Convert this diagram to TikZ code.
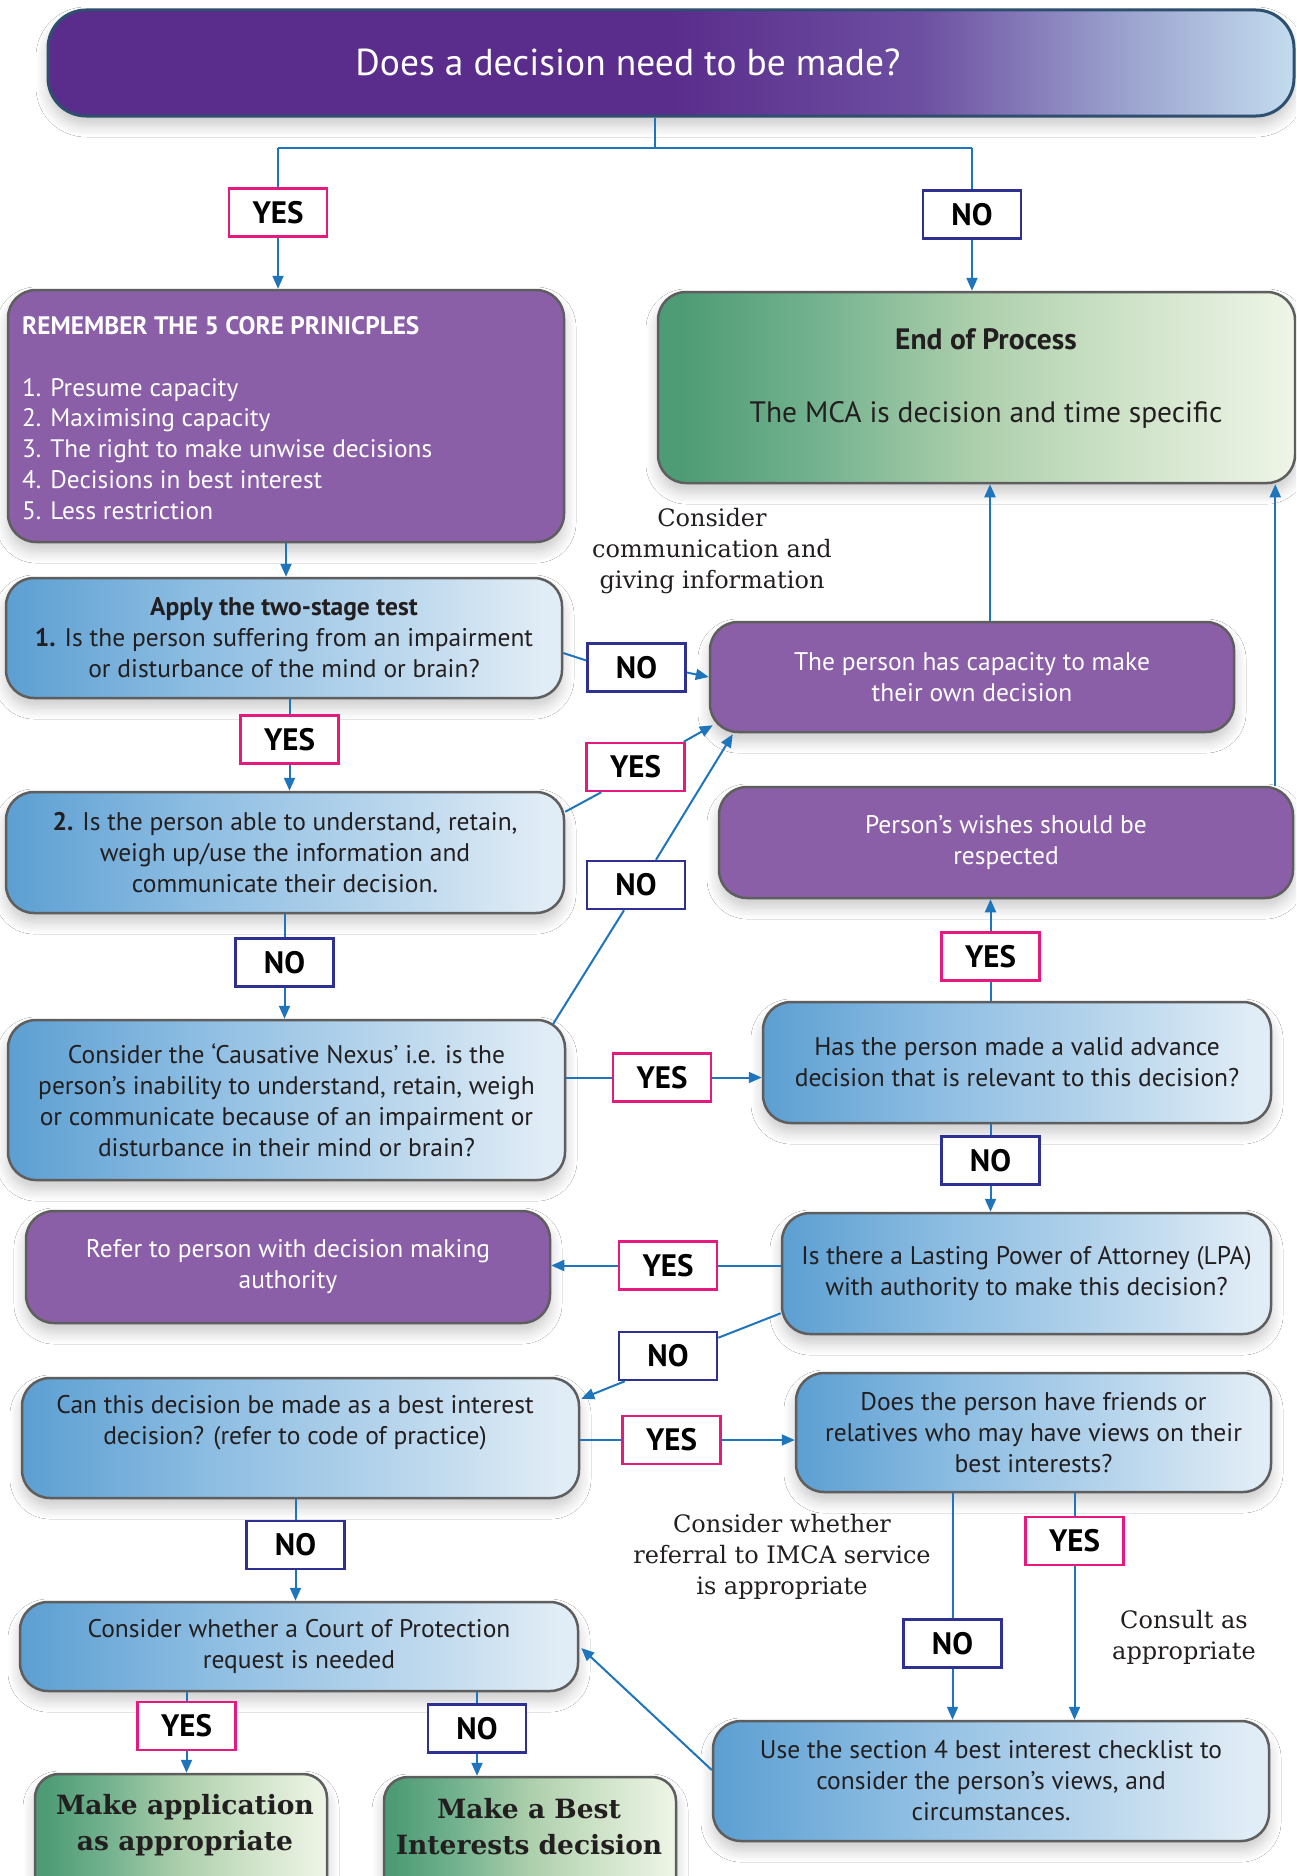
\documentclass[tikz,border=0pt]{standalone}
\usepackage{fontspec}
\setmainfont{PT Sans}
\newfontfamily\annfont{DejaVu Serif}
\usetikzlibrary{arrows.meta,calc,shadows.blur}
\definecolor{textdark}{HTML}{231F20}
\definecolor{boxgray}{HTML}{5E5E5E}
\definecolor{boxpurple}{HTML}{8A5FA8}
\definecolor{connblue}{HTML}{1F75BC}
\definecolor{yesmag}{HTML}{E5197E}
\definecolor{nonavy}{HTML}{2E3192}
\definecolor{topborder}{HTML}{2F4F6F}
\definecolor{topA}{HTML}{5A2D8C}
\definecolor{topB}{HTML}{6D4FA1}
\definecolor{topC}{HTML}{9AA0CD}
\definecolor{topD}{HTML}{C3DCEE}
\definecolor{blA}{HTML}{5C9FD2}
\definecolor{blB}{HTML}{8DBDE2}
\definecolor{blC}{HTML}{C0DAEE}
\definecolor{blD}{HTML}{E0ECF6}
\definecolor{grA}{HTML}{4E9C75}
\definecolor{grB}{HTML}{72B18E}
\definecolor{grC}{HTML}{ADCFAC}
\definecolor{grD}{HTML}{CFE3C9}
\definecolor{grE}{HTML}{EFF5E7}
\pgfdeclarehorizontalshading{topshade}{100bp}{color(0bp)=(topA); color(50bp)=(topA); color(60bp)=(topB); color(68bp)=(topC); color(75bp)=(topD); color(100bp)=(topD)}
\pgfdeclarehorizontalshading{blueshade}{100bp}{color(0bp)=(blA); color(25bp)=(blA); color(42bp)=(blB); color(62bp)=(blC); color(73bp)=(blD); color(100bp)=(blD)}
\pgfdeclarehorizontalshading{greenshade}{100bp}{color(0bp)=(grA); color(27bp)=(grA); color(37bp)=(grB); color(50bp)=(grC); color(62bp)=(grD); color(75bp)=(grE); color(100bp)=(grE)}
\begin{document}
\begin{tikzpicture}[x=1pt,y=-1pt,
  softshadow/.style={blur shadow={shadow xshift=0pt, shadow yshift=-9pt, shadow blur radius=12pt, shadow opacity=22, shadow blur steps=10}},
  box/.style={draw=boxgray, line width=2.5pt, rounded corners=28pt, inner sep=0pt, align=center, text=textdark, font=\fontsize{25.5}{31}\selectfont, softshadow},
  bluebox/.style={box, shade, shading=blueshade},
  purplebox/.style={box, fill=boxpurple, text=white},
  greenbox/.style={box, shade, shading=greenshade},
  yesbox/.style={draw=yesmag, line width=2.5pt, fill=white, minimum width=98pt, minimum height=48pt, inner sep=0pt, font=\bfseries\fontsize{31}{31}\selectfont, text=black},
  nobox/.style={yesbox, draw=nonavy},
  conn/.style={draw=connblue, line width=2pt},
  arr/.style={conn, -{Triangle[length=13pt,width=11pt]}},
  ann/.style={font=\annfont\fontsize{24}{31}\selectfont, align=center, text=textdark}
]
\useasboundingbox (0,0) rectangle (1296,1876);
\clip (0,0) rectangle (1296,1876);
\fill[white] (0,0) rectangle (1296,1876);

% top
\node[draw=topborder, line width=3pt, rounded corners=38pt, shade, shading=topshade, minimum width=1246pt, minimum height=106pt, inner sep=0pt, softshadow] (top) at (671,63) {};
\node[font=\fontsize{37.5}{40}\selectfont, text=white] (toptext) at (628,62) {Does a decision need to be made?};

% main boxes
\node[purplebox, minimum width=556pt, minimum height=252pt] (core) at (286,416) {};
\node[anchor=north west, inner sep=0pt, align=left, text=white, font=\fontsize{25.3}{30.8}\selectfont] (coretext) at (22,316)
  {{\bfseries\fontsize{25.3}{30}\selectfont REMEMBER THE 5 CORE PRINICPLES}\\[31pt]
   1. Presume capacity\\ 2. Maximising capacity\\ 3. The right to make unwise decisions\\ 4. Decisions in best interest\\ 5. Less restriction};

\node[greenbox, minimum width=637pt, minimum height=191pt] (endp) at (976.5,387.5) {};
\node[align=center, text=textdark, font=\fontsize{29.5}{35}\selectfont] (endtext) at (986,378)
  {\textbf{End of Process}\\[38pt] The MCA is decision and time specific};

\node[bluebox, minimum width=556pt, minimum height=120pt] (apply) at (284,638)
  {\textbf{Apply the two-stage test}\\ \textbf{1.} Is the person suffering from an impairment\\ or disturbance of the mind or brain?};
\node[purplebox, minimum width=524pt, minimum height=110pt] (cap) at (972,677)
  {The person has capacity to make\\ their own decision};
\node[bluebox, minimum width=558pt, minimum height=121pt] (q2) at (285,852.5)
  {\textbf{2.} Is the person able to understand, retain,\\ weigh up/use the information and\\ communicate their decision.};
\node[bluebox, minimum width=557pt, minimum height=160pt] (caus) at (286.5,1100)
  {Consider the ‘Causative Nexus’ i.e. is the\\ person’s inability to understand, retain, weigh\\ or communicate because of an impairment or\\ disturbance in their mind or brain?};
\node[purplebox, minimum width=574pt, minimum height=111pt] (wish) at (1006,842.5)
  {Person’s wishes should be\\ respected};
\node[bluebox, minimum width=508pt, minimum height=121pt] (adv) at (1017,1062.5)
  {Has the person made a valid advance\\ decision that is relevant to this decision?};
\node[bluebox, minimum width=489pt, minimum height=121pt] (lpa) at (1026.5,1273.5)
  {Is there a Lasting Power of Attorney (LPA)\\ with authority to make this decision?};
\node[purplebox, minimum width=524pt, minimum height=112pt] (refer) at (288,1267)
  {Refer to person with decision making\\ authority};
\node[bluebox, minimum width=557pt, minimum height=120pt] (bestq) at (300.5,1438) {};
\node[align=center, text=textdark, font=\fontsize{25.5}{31}\selectfont] (bestqtext) at (295,1423)
  {Can this decision be made as a best interest\\ decision? (refer to code of practice)};
\node[bluebox, minimum width=475pt, minimum height=119pt] (friends) at (1033.5,1432.5)
  {Does the person have friends or\\ relatives who may have views on their\\ best interests?};
\node[bluebox, minimum width=556pt, minimum height=120pt] (sec4) at (991,1781)
  {Use the section 4 best interest checklist to\\ consider the person’s views, and\\ circumstances.};
\node[bluebox, minimum width=558pt, minimum height=89pt] (court) at (299,1646.5)
  {Consider whether a Court of Protection\\ request is needed};
\node[greenbox, rounded corners=24pt, minimum width=292pt, minimum height=126pt] (app) at (181,1837) {};
\node[align=center, text=textdark, font=\annfont\bfseries\fontsize{26.5}{36}\selectfont] (apptext) at (185,1825)
  {Make application\\ as appropriate};
\node[greenbox, rounded corners=24pt, minimum width=292pt, minimum height=123pt] (mbest) at (530,1838.5) {};
\node[align=center, text=textdark, font=\annfont\bfseries\fontsize{26.5}{36}\selectfont] (mbesttext) at (529,1827)
  {Make a Best\\ Interests decision};

% annotations
\node[ann] (comm) at (712,551) {Consider\\ communication and\\ giving information};
\node[ann] (imca) at (782,1557) {Consider whether\\ referral to IMCA service\\ is appropriate};
\node[ann] (consult) at (1184,1637) {Consult as\\ appropriate};

% labels
\node[yesbox] (yes1) at (278,212.5) {YES};
\node[nobox] (no1) at (972,214.5) {NO};
\node[nobox] (no2) at (636.5,667.5) {NO};
\node[yesbox] (yes2) at (289.5,739.5) {YES};
\node[yesbox] (yes3) at (635.5,767) {YES};
\node[nobox] (no3) at (636,885) {NO};
\node[nobox] (no4) at (284.5,962.5) {NO};
\node[yesbox] (yes4) at (662,1077.5) {YES};
\node[yesbox] (yes5) at (990.5,956.5) {YES};
\node[nobox] (no5) at (990.5,1160.5) {NO};
\node[yesbox] (yes6) at (668,1265.5) {YES};
\node[nobox] (no6) at (668,1356) {NO};
\node[yesbox] (yes7) at (671.5,1440) {YES};
\node[yesbox] (yes8) at (1074.5,1541) {YES};
\node[nobox] (no7) at (952.5,1643.5) {NO};
\node[nobox] (no8) at (295.5,1545) {NO};
\node[yesbox] (yes9) at (186.5,1726) {YES};
\node[nobox] (no9) at (477,1728.5) {NO};

% connectors
\coordinate (split) at (655,148);
\draw[conn] (top.south -| split) -- (split);
\draw[conn] (yes1.north |- split) -- (no1.north |- split);
\draw[conn] (yes1.north |- split) -- (yes1.north);
\draw[conn] (no1.north |- split) -- (no1.north);
\draw[arr] (yes1.south) -- (yes1.south |- core.north);
\draw[arr] (no1.south) -- (no1.south |- endp.north);
\draw[arr] (core.south) -- (core.south |- apply.north);
\draw[conn] ($(apply.east)+(0,15)$) -- ($(no2.west)+(0,-7)$);
\draw[arr] ($(no2.east)+(0,5)$) -- (cap.west);
\draw[arr] ($(cap.north)+(18,0)$) -- ($(endp.south)+(13.5,0)$);
\coordinate (wtop) at ($(wish.north east)+(-19,0)$);
\draw[arr] (wtop) -- (wtop |- endp.south);
\draw[conn] (yes2.north |- apply.south) -- (yes2.north);
\draw[arr] (yes2.south) -- (yes2.south |- q2.north);
\draw[conn] ($(q2.north east)+(0,21)$) -- ($(yes3.south west)+(16,0)$);
\draw[arr] ($(yes3.north east)+(-2,0)$) -- ($(cap.south west)+(4,-8)$);
\draw[conn] (no4.north |- q2.south) -- (no4.north);
\draw[arr] (no4.south) -- (no4.south |- caus.north);
\draw[conn] ($(caus.north east)+(-13,5)$) -- ($(no3.south)+(-12,0)$);
\draw[arr] ($(no3.north)+(20,0)$) -- ($(cap.south west)+(24,1)$);
\draw[conn] (yes4.west -| caus.east) -- (yes4.west);
\draw[arr] (yes4.east) -- (yes4.east -| adv.west);
\draw[conn] (yes5.south |- adv.north) -- (yes5.south);
\draw[arr] (yes5.north) -- (yes5.north |- wish.south);
\draw[conn] (no5.north |- adv.south) -- (no5.north);
\draw[arr] (no5.south) -- (no5.south |- lpa.north);
\draw[conn] (yes6.east -| lpa.west) -- (yes6.east);
\draw[arr] (yes6.west) -- (yes6.west -| refer.east);
\draw[conn] ($(lpa.south west)+(0,-22)$) -- ($(no6.north east)+(0,7)$);
\draw[arr] ($(no6.south west)+(7,0)$) -- ($(bestq.north east)+(1,22)$);
\draw[conn] (yes7.west -| bestq.east) -- (yes7.west);
\draw[arr] (yes7.east) -- (yes7.east -| friends.west);
\draw[conn] (yes8.north |- friends.south) -- (yes8.north);
\draw[arr] (yes8.south) -- (yes8.south |- sec4.north);
\draw[conn] (no7.north |- friends.south) -- (no7.north);
\draw[arr] (no7.south) -- (no7.south |- sec4.north);
\draw[arr] ($(sec4.west)+(0,-11)$) -- ($(court.east)+(2,1.5)$);
\draw[conn] (no8.north |- bestq.south) -- (no8.north);
\draw[arr] (no8.south) -- (no8.south |- court.north);
\draw[conn] (yes9.north |- court.south) -- (yes9.north);
\draw[arr] (yes9.south) -- (yes9.south |- app.north);
\draw[conn] (no9.north |- court.south) -- (no9.north);
\draw[arr] (no9.south) -- (no9.south |- mbest.north);
\end{tikzpicture}
\end{document}
